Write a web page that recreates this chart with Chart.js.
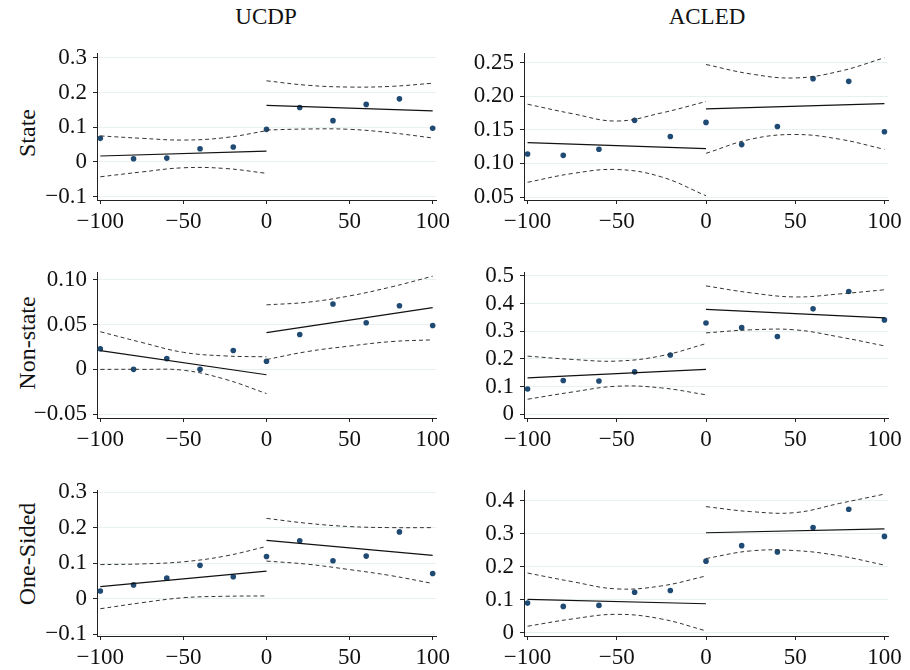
<!DOCTYPE html>
<html>
<head>
<meta charset="utf-8">
<script src="https://cdn.jsdelivr.net/npm/chart.js@4.4.1/dist/chart.umd.min.js"></script>
<style>
  body { margin: 0; background: #fff; }
  #page { position: relative; width: 910px; height: 670px; overflow: hidden;
          font-family: 'Liberation Serif', 'Times New Roman', serif; color: #111; }
  canvas { position: absolute; }
  .title { position: absolute; font-size: 23px; transform: translate(-50%, -50%); white-space: nowrap; }
  .rowlab { position: absolute; font-size: 24px; white-space: nowrap;
            transform: translate(-50%, -50%) rotate(-90deg); }
</style>
</head>
<body>
<div id="page">
  <div class="title" style="left:266px;top:17px">UCDP</div>
  <div class="title" style="left:707px;top:17px">ACLED</div>
  <div class="rowlab" style="left:27px;top:133px">State</div>
  <div class="rowlab" style="left:27px;top:343px">Non-state</div>
  <div class="rowlab" style="left:27px;top:554px">One-Sided</div>
</div>
<script>
// bins and x positions
const binX = [-100, -80, -60, -40, -20, 0, 20, 40, 60, 80, 100];
const fitXL = [-100, 0];
const fitXR = [0, 100];
const ciXL = [-100, -75, -50, -25, 0];
const ciXR = [0, 25, 50, 75, 100];
const xTicks = [-100, -50, 0, 50, 100];

// UCDP - State
const ucdpStatePts = [0.068, 0.009, 0.011, 0.038, 0.043, 0.094, 0.157, 0.119, 0.166, 0.182, 0.097];
const ucdpStateFitL = [0.017, 0.031];
const ucdpStateFitR = [0.163, 0.147];
const ucdpStateHiL = [0.075, 0.068, 0.063, 0.070, 0.090];
const ucdpStateLoL = [-0.043, -0.029, -0.017, -0.019, -0.033];
const ucdpStateHiR = [0.234, 0.221, 0.216, 0.218, 0.227];
const ucdpStateLoR = [0.092, 0.095, 0.094, 0.084, 0.069];
const ucdpStateTicks = [-0.1, 0, 0.1, 0.2, 0.3];

// ACLED - State
const acledStatePts = [0.114, 0.112, 0.121, 0.164, 0.140, 0.161, 0.128, 0.155, 0.226, 0.222, 0.147];
const acledStateFitL = [0.131, 0.122];
const acledStateFitR = [0.181, 0.189];
const acledStateHiL = [0.188, 0.174, 0.163, 0.175, 0.192];
const acledStateLoL = [0.072, 0.085, 0.091, 0.080, 0.052];
const acledStateHiR = [0.247, 0.233, 0.227, 0.237, 0.257];
const acledStateLoR = [0.115, 0.136, 0.143, 0.136, 0.121];
const acledStateTicks = [0.05, 0.10, 0.15, 0.20, 0.25];

// UCDP - Non-state
const ucdpNonPts = [0.023, 0, 0.012, 0, 0.021, 0.009, 0.039, 0.073, 0.052, 0.071, 0.049];
const ucdpNonFitL = [0.021, -0.006];
const ucdpNonFitR = [0.041, 0.069];
const ucdpNonHiL = [0.042, 0.030, 0.019, 0.015, 0.014];
const ucdpNonLoL = [0, 0, -0.001, -0.011, -0.027];
const ucdpNonHiR = [0.072, 0.075, 0.082, 0.092, 0.104];
const ucdpNonLoR = [0.011, 0.020, 0.026, 0.031, 0.033];
const ucdpNonTicks = [-0.05, 0, 0.05, 0.10];

// ACLED - Non-state
const acledNonPts = [0.091, 0.122, 0.120, 0.153, 0.214, 0.330, 0.313, 0.281, 0.381, 0.444, 0.341];
const acledNonFitL = [0.131, 0.162];
const acledNonFitR = [0.379, 0.348];
const acledNonHiL = [0.210, 0.198, 0.192, 0.211, 0.255];
const acledNonLoL = [0.054, 0.080, 0.101, 0.095, 0.070];
const acledNonHiR = [0.464, 0.439, 0.424, 0.435, 0.450];
const acledNonLoR = [0.294, 0.305, 0.305, 0.279, 0.247];
const acledNonTicks = [0, 0.1, 0.2, 0.3, 0.4, 0.5];

// UCDP - One-Sided
const ucdpOnePts = [0.022, 0.039, 0.058, 0.094, 0.062, 0.119, 0.163, 0.107, 0.120, 0.188, 0.071];
const ucdpOneFitL = [0.034, 0.078];
const ucdpOneFitR = [0.164, 0.122];
const ucdpOneHiL = [0.096, 0.098, 0.104, 0.120, 0.147];
const ucdpOneLoL = [-0.028, -0.011, 0.003, 0.007, 0.008];
const ucdpOneHiR = [0.226, 0.212, 0.203, 0.200, 0.200];
const ucdpOneLoR = [0.106, 0.097, 0.082, 0.065, 0.043];
const ucdpOneTicks = [-0.1, 0, 0.1, 0.2, 0.3];

// ACLED - One-Sided
const acledOnePts = [0.090, 0.080, 0.083, 0.123, 0.128, 0.217, 0.264, 0.245, 0.319, 0.374, 0.292];
const acledOneFitL = [0.101, 0.088];
const acledOneFitR = [0.303, 0.315];
const acledOneHiL = [0.181, 0.155, 0.133, 0.142, 0.172];
const acledOneLoL = [0.020, 0.042, 0.056, 0.042, 0.006];
const acledOneHiR = [0.382, 0.367, 0.364, 0.392, 0.420];
const acledOneLoR = [0.225, 0.248, 0.249, 0.233, 0.205];
const acledOneTicks = [0, 0.1, 0.2, 0.3, 0.4];

Chart.defaults.font.family = "'Liberation Serif', 'Times New Roman', serif";
Chart.defaults.font.size = 23;
Chart.defaults.color = '#111';

const Y_W = 80, PAD_T = 14, PAD_R = 30, X_H = 40;
const dotColor = '#1f4a73';

const xy = (xs, ys) => xs.map((x, i) => ({ x: x, y: ys[i] }));
const fmt = (v, dec) => {
  if (Math.abs(v) < 1e-9) return '0';
  const s = Math.abs(v).toFixed(dec);
  return v < 0 ? '\u2212' + s : s;
};

function lineSet(data, dashed) {
  return {
    data: data,
    showLine: true,
    pointRadius: 0,
    borderColor: dashed ? '#333' : '#111',
    borderWidth: dashed ? 1 : 1.2,
    borderDash: dashed ? [4, 3] : [],
    tension: dashed ? 0.4 : 0
  };
}

function makePanel(p) {
  const cv = document.createElement('canvas');
  const w = Y_W + (p.right - p.left) + PAD_R;
  const h = PAD_T + (p.bottom - p.top) + X_H;
  cv.width = w;
  cv.height = h;
  cv.style.left = (p.left - Y_W) + 'px';
  cv.style.top = (p.top - PAD_T) + 'px';
  document.getElementById('page').appendChild(cv);

  new Chart(cv.getContext('2d'), {
    type: 'scatter',
    data: {
      datasets: [
        lineSet(xy(ciXL, p.hiL), true),
        lineSet(xy(ciXL, p.loL), true),
        lineSet(xy(ciXR, p.hiR), true),
        lineSet(xy(ciXR, p.loR), true),
        lineSet(xy(fitXL, p.fitL), false),
        lineSet(xy(fitXR, p.fitR), false),
        {
          data: xy(binX, p.pts),
          pointRadius: 2.8,
          pointBackgroundColor: dotColor,
          pointBorderColor: dotColor,
          pointBorderWidth: 0
        }
      ]
    },
    options: {
      responsive: false,
      animation: false,
      devicePixelRatio: 1,
      layout: { padding: { top: PAD_T, right: PAD_R, left: 0, bottom: 0 } },
      plugins: { legend: { display: false }, tooltip: { enabled: false } },
      scales: {
        x: {
          type: 'linear',
          min: -102,
          max: 102,
          afterBuildTicks: s => { s.ticks = xTicks.map(v => ({ value: v })); },
          afterFit: s => { s.height = X_H; },
          border: { display: true, color: '#222', width: 1 },
          grid: { drawOnChartArea: false, drawTicks: true, tickLength: 4, tickColor: '#222' },
          ticks: { padding: 4, maxRotation: 0, autoSkip: false, callback: v => fmt(v, 0) }
        },
        y: {
          type: 'linear',
          min: p.ymin,
          max: p.ymax,
          afterBuildTicks: s => { s.ticks = p.ticks.map(v => ({ value: v })); },
          afterFit: s => { s.width = Y_W; },
          border: { display: true, color: '#222', width: 1 },
          grid: { color: '#e8f0f0', lineWidth: 1, drawTicks: true, tickLength: 4, tickColor: '#222' },
          ticks: { padding: 6, autoSkip: false, callback: v => fmt(v, p.dec) }
        }
      }
    }
  });
}

const leftCol = { left: 97, right: 436 };
const rightCol = { left: 524, right: 888 };
const row1 = { top: 48, bottom: 200 };
const row2 = { top: 267, bottom: 418 };
const row3 = { top: 485, bottom: 636 };

makePanel({ ...leftCol, ...row1, ymin: -0.110, ymax: 0.312, dec: 1, ticks: ucdpStateTicks,
  pts: ucdpStatePts, fitL: ucdpStateFitL, fitR: ucdpStateFitR,
  hiL: ucdpStateHiL, loL: ucdpStateLoL, hiR: ucdpStateHiR, loR: ucdpStateLoR });
makePanel({ ...rightCol, ...row1, ymin: 0.0457, ymax: 0.2629, dec: 2, ticks: acledStateTicks,
  pts: acledStatePts, fitL: acledStateFitL, fitR: acledStateFitR,
  hiL: acledStateHiL, loL: acledStateLoL, hiR: acledStateHiR, loR: acledStateLoR });
makePanel({ ...leftCol, ...row2, ymin: -0.0543, ymax: 0.1078, dec: 2, ticks: ucdpNonTicks,
  pts: ucdpNonPts, fitL: ucdpNonFitL, fitR: ucdpNonFitR,
  hiL: ucdpNonHiL, loL: ucdpNonLoL, hiR: ucdpNonHiR, loR: ucdpNonLoR });
makePanel({ ...rightCol, ...row2, ymin: -0.0139, ymax: 0.5114, dec: 1, ticks: acledNonTicks,
  pts: acledNonPts, fitL: acledNonFitL, fitR: acledNonFitR,
  hiL: acledNonHiL, loL: acledNonLoL, hiR: acledNonHiR, loR: acledNonLoR });
makePanel({ ...leftCol, ...row3, ymin: -0.1046, ymax: 0.3035, dec: 1, ticks: ucdpOneTicks,
  pts: ucdpOnePts, fitL: ucdpOneFitL, fitR: ucdpOneFitR,
  hiL: ucdpOneHiL, loL: ucdpOneLoL, hiR: ucdpOneHiR, loR: ucdpOneLoR });
makePanel({ ...rightCol, ...row3, ymin: -0.0096, ymax: 0.430, dec: 1, ticks: acledOneTicks,
  pts: acledOnePts, fitL: acledOneFitL, fitR: acledOneFitR,
  hiL: acledOneHiL, loL: acledOneLoL, hiR: acledOneHiR, loR: acledOneLoR });
</script>
</body>
</html>
